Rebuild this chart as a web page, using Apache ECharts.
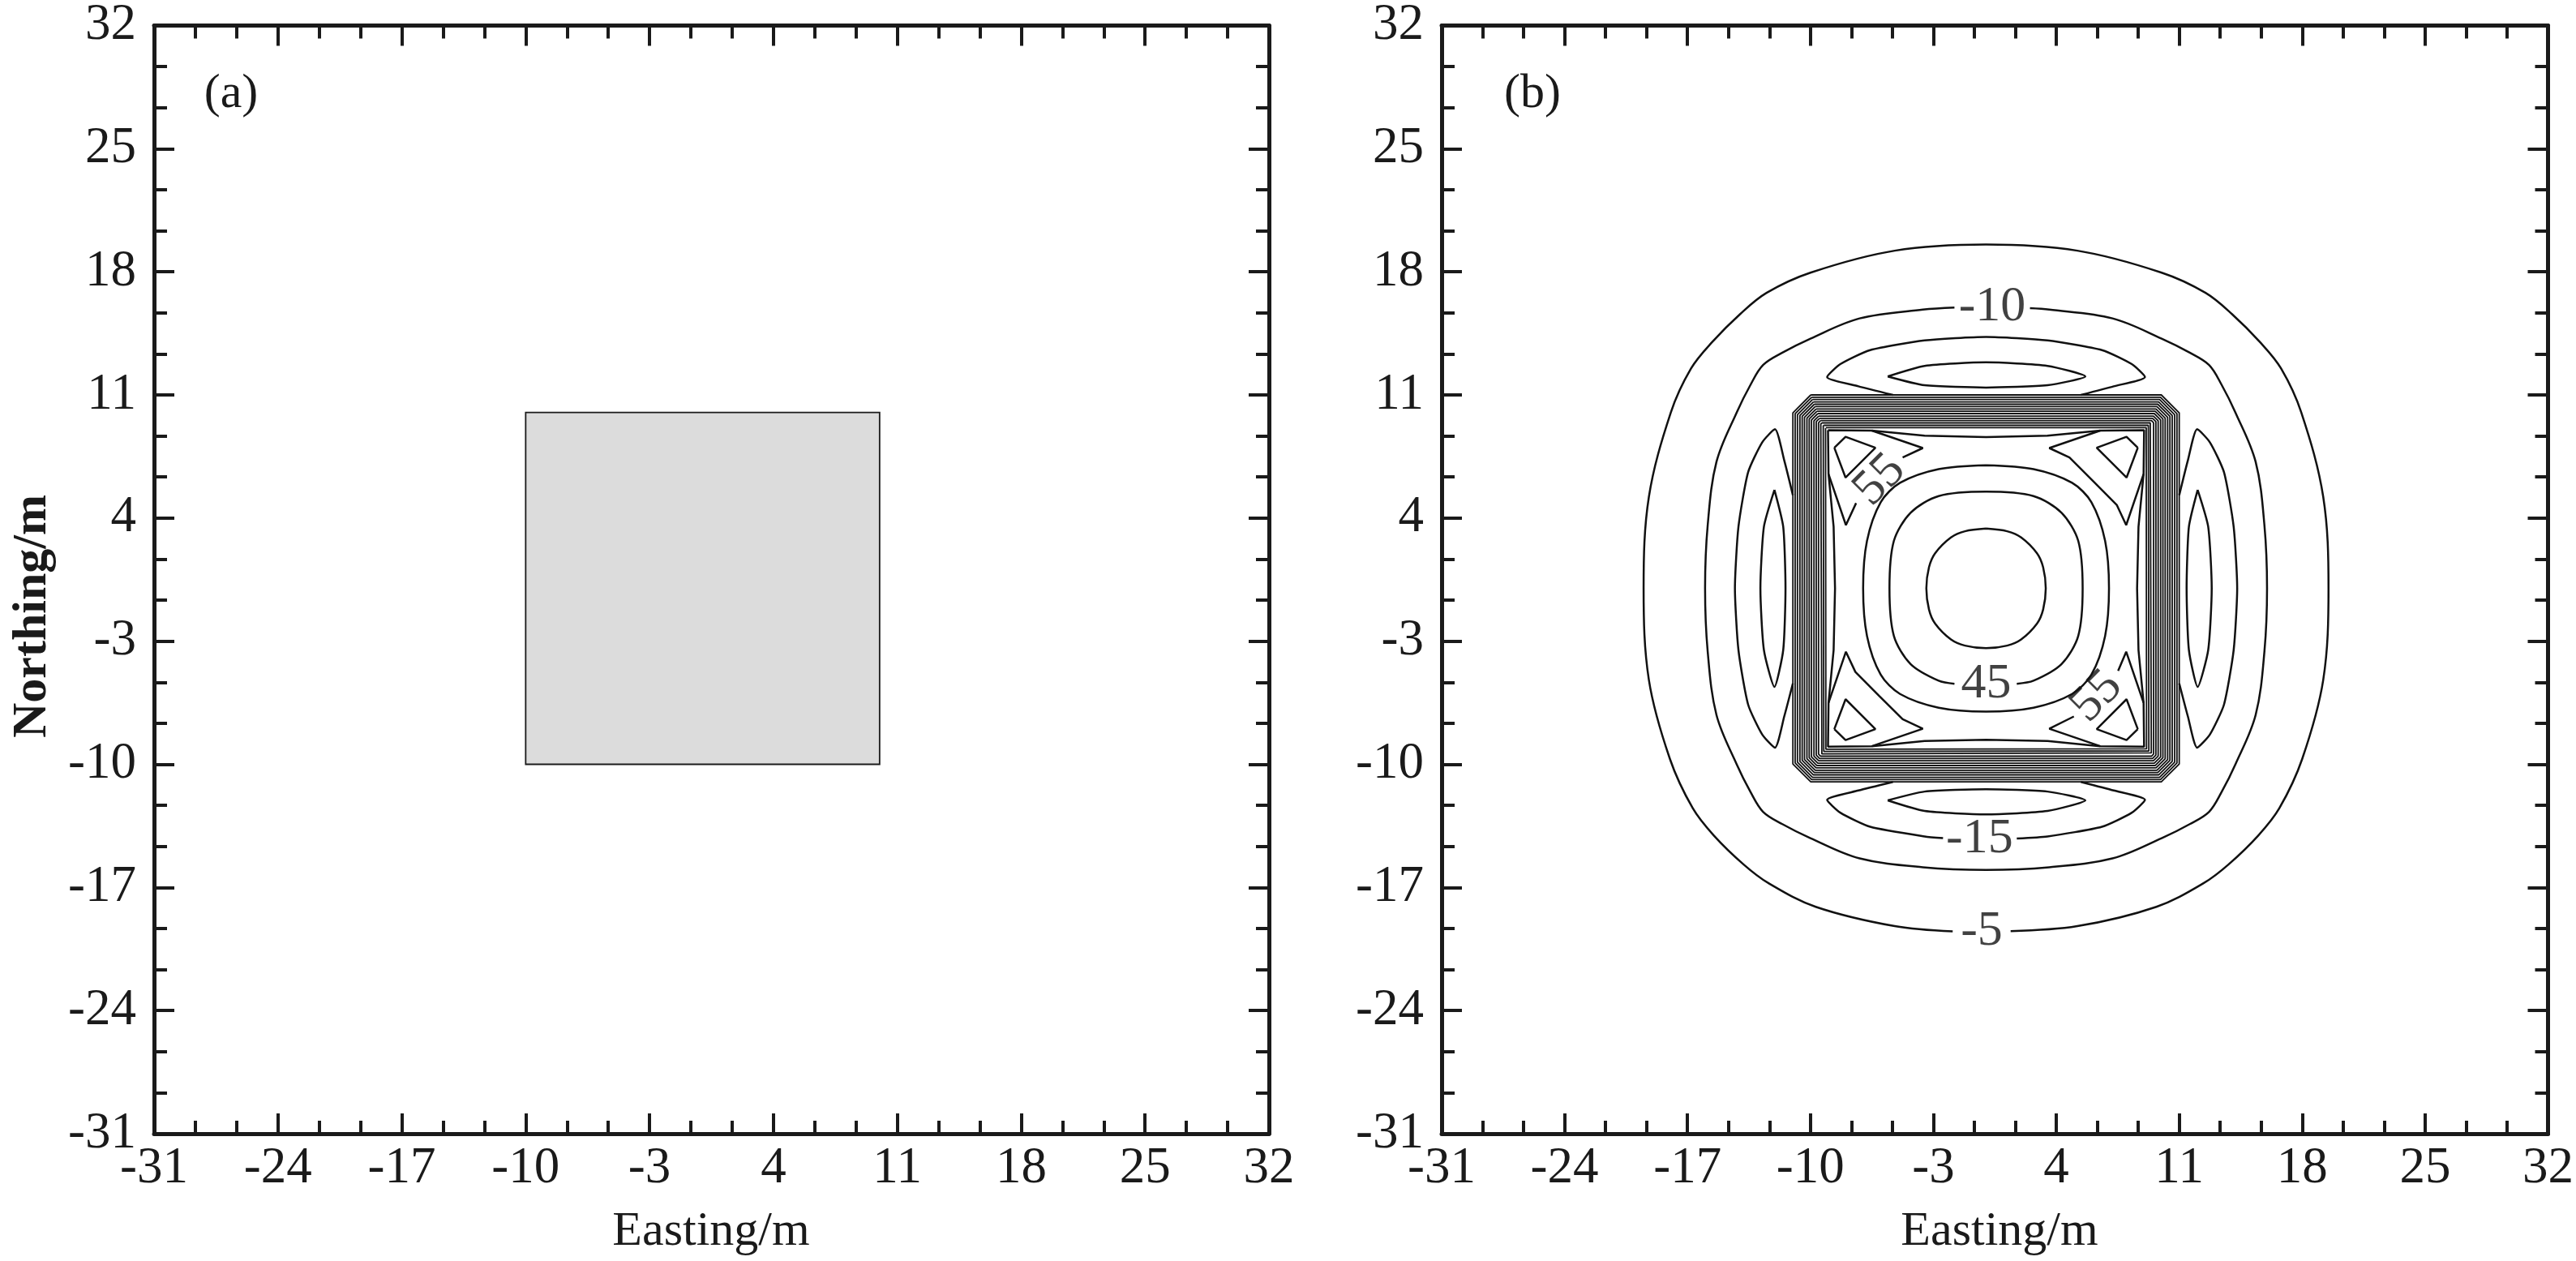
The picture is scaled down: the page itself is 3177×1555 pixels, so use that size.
<!DOCTYPE html>
<html><head><meta charset="utf-8">
<script src="https://cdn.jsdelivr.net/npm/echarts@6/dist/echarts.min.js"></script>
<style>html,body{margin:0;padding:0;background:#fff}#c{width:3177px;height:1555px}</style>
</head><body><div id="c"></div>
<script>
// ---------- data (metres) ----------
const axisTicks = [-31, -24, -17, -10, -3, 4, 11, 18, 25, 32];

// panel (a): prism outline [x0, y0, x1, y1]
const prismA = [[-10, -10, 10, 10]];

// panel (b): contour lines, each a polyline of [easting, northing]
const contourM5 = [[1.4,-19.48],[5.2,-19.2],[9.7,-18.1],[12.4,-16.75],[13.8,-15.7],[15.5,-14.05],[16.7,-12.5],[18.0,-9.7],[19.2,-5.2],[19.5,0],[19.2,5.2],[17.95,10.0],[16.8,12.5],[15.6,14.0],[14.0,15.6],[12.5,16.8],[10.0,17.95],[5.2,19.2],[0,19.55],[-5.2,19.2],[-10.0,17.95],[-12.5,16.8],[-14.0,15.6],[-15.6,14.0],[-16.8,12.5],[-17.95,10.0],[-19.2,5.2],[-19.5,0],[-19.2,-5.2],[-18.0,-9.7],[-16.7,-12.5],[-15.5,-14.05],[-13.8,-15.7],[-12.4,-16.75],[-9.7,-18.1],[-5.2,-19.2],[-1.9,-19.5]];
const contourM10 = [[2.5,15.93],[3.6,15.85],[7.2,15.35],[10.0,14.2],[11.6,13.4],[12.7,12.7],[13.4,11.6],[14.2,10.0],[15.35,7.2],[15.85,3.6],[16.0,0],[15.85,-3.6],[15.35,-7.2],[14.2,-10.0],[13.4,-11.6],[12.7,-12.7],[11.6,-13.4],[10.0,-14.2],[7.2,-15.35],[3.6,-15.85],[0,-16.0],[-3.6,-15.85],[-7.2,-15.35],[-10.0,-14.2],[-11.6,-13.4],[-12.7,-12.7],[-13.4,-11.6],[-14.2,-10.0],[-15.35,-7.2],[-15.85,-3.6],[-16.0,0],[-15.85,3.6],[-15.35,7.2],[-14.2,10.0],[-13.4,11.6],[-12.7,12.7],[-11.6,13.4],[-10.0,14.2],[-7.2,15.35],[-3.6,15.85],[-1.8,15.97]];
const contourM15Top = [[-5.3,11.0],[-7.27,11.49],[-9.05,12.02],[-8.3,12.75],[-6.6,13.55],[-3.5,14.1],[0,14.3],[3.5,14.1],[6.6,13.55],[8.3,12.75],[9.05,12.02],[7.27,11.49],[5.4,11.0]];
const contourM15BottomW = [[-5.3,-11.0],[-7.27,-11.49],[-9.05,-12.02],[-8.3,-12.75],[-6.6,-13.55],[-3.5,-14.1],[-2.45,-14.2]];
const contourM15BottomE = [[1.75,-14.22],[3.5,-14.1],[6.6,-13.55],[8.3,-12.75],[9.05,-12.02],[7.27,-11.49],[5.4,-11.0]];
const contourM15Left = [[-11.0,5.3],[-11.49,7.27],[-12.02,9.05],[-12.75,8.3],[-13.55,6.6],[-14.1,3.5],[-14.3,0],[-14.1,-3.5],[-13.55,-6.6],[-12.75,-8.3],[-12.02,-9.05],[-11.49,-7.27],[-11.0,-5.4]];
const contourM15Right = [[11.0,5.3],[11.49,7.27],[12.02,9.05],[12.75,8.3],[13.55,6.6],[14.1,3.5],[14.3,0],[14.1,-3.5],[13.55,-6.6],[12.75,-8.3],[12.02,-9.05],[11.49,-7.27],[11.0,-5.4]];
const lensTop = [[-5.6,12.05],[-3.5,12.65],[0,12.85],[3.5,12.65],[5.65,12.05],[3.5,11.55],[0,11.42],[-3.5,11.55],[-5.6,12.05]];
const lensBottom = [[-5.6,-12.05],[-3.5,-12.65],[0,-12.85],[3.5,-12.65],[5.65,-12.05],[3.5,-11.55],[0,-11.42],[-3.5,-11.55],[-5.6,-12.05]];
const lensLeft = [[-12.05,5.6],[-12.65,3.5],[-12.85,0],[-12.65,-3.5],[-12.05,-5.6],[-11.55,-3.5],[-11.42,0],[-11.55,3.5],[-12.05,5.6]];
const lensRight = [[12.05,5.6],[12.65,3.5],[12.85,0],[12.65,-3.5],[12.05,-5.6],[11.55,-3.5],[11.42,0],[11.55,3.5],[12.05,5.6]];
const core40 = [[0,3.4],[1.2,3.25],[2.0,2.9],[2.9,2.0],[3.25,1.2],[3.4,0],[3.25,-1.2],[2.9,-2.0],[2.0,-2.9],[1.2,-3.25],[0,-3.4],[-1.2,-3.25],[-2.0,-2.9],[-2.9,-2.0],[-3.25,-1.2],[-3.4,0],[-3.25,1.2],[-2.9,2.0],[-2.0,2.9],[-1.2,3.25],[0,3.4]];
const core45 = [[1.75,-5.42],[2.7,-5.25],[4.3,-4.3],[5.25,-2.7],[5.5,0],[5.25,2.7],[4.3,4.3],[2.7,5.25],[0,5.5],[-2.7,5.25],[-4.3,4.3],[-5.25,2.7],[-5.5,0],[-5.25,-2.7],[-4.3,-4.3],[-2.7,-5.25],[-1.8,-5.42]];
const core50 = [[0,7.0],[2.7,6.78],[4.9,6.0],[6.0,4.9],[6.78,2.7],[7.0,0],[6.78,-2.7],[6.0,-4.9],[4.9,-6.0],[2.7,-6.78],[0,-7.0],[-2.7,-6.78],[-4.9,-6.0],[-6.0,-4.9],[-6.78,-2.7],[-7.0,0],[-6.78,2.7],[-6.0,4.9],[-4.9,6.0],[-2.7,6.78],[0,7.0]];
const bandInner = [[-9.0,9.0],[-6.5,8.97],[-3.5,8.68],[0,8.6],[3.5,8.68],[6.5,8.97],[9.0,9.0],[8.97,6.5],[8.68,3.5],[8.6,0],[8.68,-3.5],[8.97,-6.5],[9.0,-9.0],[6.5,-8.97],[3.5,-8.68],[0,-8.6],[-3.5,-8.68],[-6.5,-8.97],[-9.0,-9.0],[-8.97,-6.5],[-8.68,-3.5],[-8.6,0],[-8.68,3.5],[-8.97,6.5],[-9.0,9.0]];
const c55UpperLeftA = [[-6.5,8.97],[-3.6,7.98],[-4.75,7.44]];
const c55UpperLeftB = [[-7.4,4.85],[-7.98,3.6],[-8.97,6.5]];
const c55UpperRight = [[6.5,8.97],[3.6,7.98],[4.75,7.44],[6.1,6.1],[7.44,4.75],[7.98,3.6],[8.97,6.5]];
const c55LowerLeft = [[-6.5,-8.97],[-3.6,-7.98],[-4.75,-7.44],[-6.1,-6.1],[-7.44,-4.75],[-7.98,-3.6],[-8.97,-6.5]];
const c55LowerRightA = [[8.97,-6.5],[7.98,-3.6],[7.52,-4.69]];
const c55LowerRightB = [[5.0,-7.28],[3.6,-7.98],[6.5,-8.97]];
const peakUL = [[-8.64,8.0],[-8.0,8.62],[-6.3,8.0],[-8.0,6.3],[-8.64,8.0]];
const peakUR = [[8.64,8.0],[8.0,8.62],[6.3,8.0],[8.0,6.3],[8.64,8.0]];
const peakLL = [[-8.64,-8.0],[-8.0,-8.62],[-6.3,-8.0],[-8.0,-6.3],[-8.64,-8.0]];
const peakLR = [[8.64,-8.0],[8.0,-8.62],[6.3,-8.0],[8.0,-6.3],[8.64,-8.0]];
// dense band of contours along the prism edges: half-size and corner cut of each
const bandHalfSizes = [11.0, 10.87, 10.74, 10.6, 10.47, 10.34, 10.2, 10.07, 9.94, 9.8, 9.67, 9.54, 9.41, 9.27, 9.14];
const bandCornerCuts = [1.02, 0.94, 0.86, 0.77, 0.69, 0.61, 0.52, 0.44, 0.36, 0.27, 0.19, 0.12, 0.06, 0.03, 0.02];
// contour labels [easting, northing, text]
const levelLabels = [[-0.25,-19.5,'-5'],[0.35,16.0,'-10'],[-0.37,-14.25,'-15'],[0,-5.45,'45']];
const levelLabelsDiag = [[-6.05,6.15,'55'],[6.3,-6.15,'55']];

// ---------- chart ----------
const FONT = '"Liberation Serif","Times New Roman",serif';
const INK = '#1a1a1a';
const lo = axisTicks[0], hi = axisTicks[axisTicks.length - 1], step = axisTicks[1] - axisTicks[0];

function axis(gridIndex, position, showLabel, isY) {
  return {
    type: 'value', gridIndex, position, min: lo, max: hi, interval: step,
    splitLine: { show: false },
    axisLine: { show: true, onZero: false, lineStyle: { color: INK, width: 5 } },
    axisTick: { show: true, inside: true, length: 25, lineStyle: { color: INK, width: 4 } },
    minorTick: { show: true, splitNumber: 3, length: 16, lineStyle: { color: INK, width: 4 } },
    axisLabel: { show: showLabel, fontFamily: FONT, fontSize: 63, color: INK, margin: isY ? 22 : 12,
      showMinLabel: true, showMaxLabel: true }
  };
}

const series = [];
series.push({
  type: 'custom', xAxisIndex: 0, yAxisIndex: 0, data: prismA, silent: true,
  renderItem: (params, api) => {
    const p0 = api.coord([api.value(0), api.value(3)]);
    const p1 = api.coord([api.value(2), api.value(1)]);
    return { type: 'rect', shape: { x: p0[0], y: p0[1], width: p1[0] - p0[0], height: p1[1] - p0[1] },
      style: { fill: '#dcdcdc', stroke: INK, lineWidth: 1.8 } };
  }
});

function contour(data, smooth, width) {
  series.push({ type: 'line', xAxisIndex: 2, yAxisIndex: 2, data, showSymbol: false, symbol: 'none',
    smooth: smooth || false, silent: true, animation: false,
    lineStyle: { color: '#111', width: width || 2.5 } });
}
[contourM5, contourM10].forEach(d => contour(d, 0.35));
[core40, core45, core50].forEach(d => contour(d, 0.3));
[contourM15Top, contourM15BottomW, contourM15BottomE, contourM15Left, contourM15Right,
 lensTop, lensBottom, lensLeft, lensRight].forEach(d => contour(d, 0.2));
[bandInner, c55UpperLeftA, c55UpperLeftB, c55UpperRight, c55LowerLeft, c55LowerRightA, c55LowerRightB,
 peakUL, peakUR, peakLL, peakLR].forEach(d => contour(d, false));
bandHalfSizes.forEach((s, i) => {
  const d = bandCornerCuts[i];
  contour([[-s + d, s], [s - d, s], [s, s - d], [s, -s + d], [s - d, -s], [-s + d, -s], [-s, -s + d], [-s, s - d], [-s + d, s]], false, 1.8);
});

series.push({ type: 'scatter', xAxisIndex: 2, yAxisIndex: 2, data: levelLabels, symbolSize: 0, silent: true,
  label: { show: true, position: 'inside', formatter: p => p.data[2], fontFamily: FONT, fontSize: 62, color: '#111' } });
series.push({ type: 'scatter', xAxisIndex: 2, yAxisIndex: 2, data: levelLabelsDiag, symbolSize: 0, silent: true,
  label: { show: true, position: 'inside', rotate: 45, formatter: p => p.data[2], fontFamily: FONT, fontSize: 62, color: '#111' } });

const txt = (x, y, text, font, extra) => Object.assign({ type: 'text', x, y, silent: true,
  style: { text, font, fill: INK, textAlign: 'center', textVerticalAlign: 'middle', align: 'center', verticalAlign: 'middle' } }, extra || {});

const option = {
  animation: false,
  backgroundColor: '#fff',
  grid: [
    { left: 190, top: 22, width: 1375, height: 1376 },
    { left: 1778, top: 22, width: 1377, height: 1376 }
  ],
  xAxis: [axis(0, 'bottom', true, false), axis(0, 'top', false, false), axis(1, 'bottom', true, false), axis(1, 'top', false, false)],
  yAxis: [axis(0, 'left', true, true), axis(0, 'right', false, true), axis(1, 'left', true, true), axis(1, 'right', false, true)],
  series,
  graphic: [
    txt(285, 116, '(a)', '60px ' + FONT),
    txt(1890, 116, '(b)', '60px ' + FONT),
    txt(877, 1519, 'Easting/m', '60px ' + FONT),
    txt(2466, 1519, 'Easting/m', '60px ' + FONT),
    txt(40, 760, 'Northing/m', 'bold 60px ' + FONT, { rotation: Math.PI / 2 })
  ]
};
const chart = echarts.init(document.getElementById('c'), null, { renderer: 'canvas' });
chart.setOption(option);
</script></body></html>
